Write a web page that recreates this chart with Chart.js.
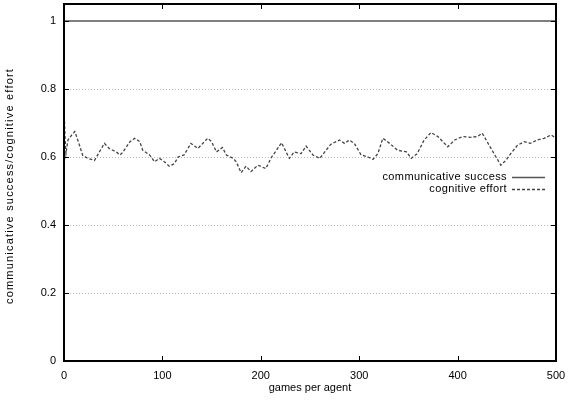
<!DOCTYPE html>
<html>
<head>
<meta charset="utf-8">
<script src="https://cdn.jsdelivr.net/npm/chart.js@4.4.1/dist/chart.umd.min.js"></script>
<style>
  html, body { margin: 0; padding: 0; background: #fff; }
  #wrap { width: 573px; height: 401px; }
</style>
</head>
<body>
<div id="wrap"><canvas id="Chart" width="573" height="401"></canvas></div>
<script>
// games per agent (x) and cognitive effort (y)
const games = [0, 1, 2, 4, 8, 11, 14, 19, 24, 31, 35, 41, 46, 53, 57, 60, 67, 72, 77, 80,
  87, 92, 97, 102, 107, 112, 116, 122, 129, 136, 146, 150, 155, 161, 165, 172, 175, 180, 185, 190,
  197, 205, 211, 216, 221, 229, 234, 241, 246, 253, 260, 265, 271, 280, 285, 290, 295, 302, 309, 314,
  319, 324, 331, 339, 348, 353, 359, 366, 373, 380, 390, 397, 405, 413, 420, 425, 432, 439, 444, 449,
  454, 461, 468, 474, 481, 488, 495, 500];
const effort = [0.75, 0.66, 0.61, 0.65, 0.665, 0.675, 0.65, 0.605, 0.596, 0.59, 0.61, 0.64, 0.625, 0.615, 0.606, 0.615, 0.645, 0.655, 0.645, 0.62,
  0.606, 0.586, 0.596, 0.586, 0.573, 0.58, 0.60, 0.606, 0.64, 0.625, 0.655, 0.645, 0.615, 0.628, 0.606, 0.596, 0.586, 0.554, 0.573, 0.557,
  0.576, 0.566, 0.60, 0.62, 0.642, 0.596, 0.615, 0.61, 0.632, 0.606, 0.596, 0.615, 0.637, 0.65, 0.64, 0.65, 0.64, 0.606, 0.60, 0.593,
  0.61, 0.655, 0.64, 0.62, 0.615, 0.596, 0.61, 0.65, 0.672, 0.66, 0.63, 0.65, 0.66, 0.658, 0.66, 0.67, 0.635, 0.60, 0.576, 0.59,
  0.61, 0.635, 0.645, 0.64, 0.65, 0.655, 0.665, 0.655];
const successGames = [0, 500];
const success = [1, 1];

const xTicks = [0, 100, 200, 300, 400, 500];
const yTicks = [0, 0.2, 0.4, 0.6, 0.8, 1];
const yTickLabels = ['0', '0.2', '0.4', '0.6', '0.8', '1'];
const yTitle = 'communicative success/cognitive effort';

const FONT = "'Liberation Sans', Arial, Helvetica, sans-serif";

function toPoints(xs, ys) {
  let pts = [];
  for (var i = 0; i < xs.length; i++) {
    pts.push({x: xs[i], y: ys[i]});
  }
  return pts;
}

// frame, inward tick marks, y title and the legend, gnuplot style
const framePlugin = {
  id: 'frame',
  afterDraw(chart) {
    const ctx = chart.ctx;
    const a = chart.chartArea;
    const xs = chart.scales.x, ys = chart.scales.y;
    ctx.save();
    ctx.strokeStyle = '#000';
    ctx.lineWidth = 1;
    ctx.beginPath();
    xTicks.forEach(function(v) {
      const px = Math.round(xs.getPixelForValue(v)) + 0.5;
      ctx.moveTo(px, a.bottom); ctx.lineTo(px, a.bottom - 5);
      ctx.moveTo(px, a.top); ctx.lineTo(px, a.top + 5);
    });
    yTicks.forEach(function(v) {
      const py = Math.round(ys.getPixelForValue(v)) + 0.5;
      ctx.moveTo(a.left, py); ctx.lineTo(a.left + 5, py);
      ctx.moveTo(a.right, py); ctx.lineTo(a.right - 5, py);
    });
    ctx.stroke();
    ctx.lineWidth = 2;
    ctx.strokeRect(a.left, a.top, a.right - a.left, a.bottom - a.top);

    // y title, a bit spaced out like the original
    ctx.save();
    ctx.translate(10, 186);
    ctx.rotate(-Math.PI / 2);
    ctx.font = '11px ' + FONT;
    ctx.letterSpacing = '1.2px';
    ctx.fillStyle = '#000';
    ctx.textAlign = 'center';
    ctx.textBaseline = 'middle';
    ctx.fillText(yTitle, 0, 0);
    ctx.restore();

    // legend
    ctx.font = '11px ' + FONT;
    ctx.letterSpacing = '0.4px';
    ctx.fillStyle = '#000';
    ctx.textAlign = 'right';
    ctx.textBaseline = 'middle';
    const rows = [177, 189];
    chart.data.datasets.forEach(function(ds, i) {
      const y = rows[i];
      ctx.fillText(ds.label, 507, y);
      ctx.strokeStyle = ds.borderColor;
      ctx.lineWidth = ds.borderWidth;
      ctx.setLineDash(ds.borderDash || []);
      ctx.beginPath();
      ctx.moveTo(512, y + 0.5); ctx.lineTo(545, y + 0.5);
      ctx.stroke();
      ctx.setLineDash([]);
    });
    ctx.restore();
  }
};

const ctx = document.getElementById('Chart');
const myChart = new Chart(ctx, {
  type: 'line',
  data: {
    datasets: [{
      label: 'communicative success',
      data: toPoints(successGames, success),
      borderColor: '#555',
      borderWidth: 1.5,
      pointRadius: 0,
      fill: false
    }, {
      label: 'cognitive effort',
      data: toPoints(games, effort),
      borderColor: '#444',
      borderWidth: 1.3,
      borderDash: [3, 2],
      pointRadius: 0,
      tension: 0,
      fill: false
    }]
  },
  options: {
    animation: false,
    responsive: false,
    layout: { padding: { top: 4, right: 17, left: 0, bottom: 0 } },
    plugins: {
      legend: { display: false },
      tooltip: { enabled: false }
    },
    scales: {
      x: {
        type: 'linear',
        min: 0,
        max: 500,
        afterBuildTicks(scale) { scale.ticks = xTicks.map(v => ({value: v})); },
        afterFit(scale) { scale.height = 40; scale.paddingLeft = 0; scale.paddingRight = 0; },
        grid: { display: false, drawTicks: false },
        border: { display: false },
        ticks: { color: '#000', font: { family: FONT, size: 11 }, padding: 8, maxRotation: 0 },
        title: {
          display: true,
          text: 'games per agent',
          color: '#000',
          font: { family: FONT, size: 11 },
          padding: { top: 0, bottom: 6 }
        }
      },
      y: {
        min: 0,
        max: 1.05,
        afterBuildTicks(scale) { scale.ticks = yTicks.map(v => ({value: v})); },
        afterFit(scale) { scale.width = 64; scale.paddingTop = 0; scale.paddingBottom = 0; },
        grid: {
          drawTicks: false,
          color: ctx => (ctx.tick && (ctx.tick.value === 0 || ctx.tick.value === 1)) ? 'rgba(0,0,0,0)' : '#bbb',
          lineWidth: 1
        },
        border: { display: false, dash: [1, 2] },
        ticks: {
          color: '#000',
          font: { family: FONT, size: 11 },
          padding: 8,
          callback: function(v, i) { return yTickLabels[i]; }
        }
      }
    }
  },
  plugins: [framePlugin]
});
</script>
</body>
</html>
